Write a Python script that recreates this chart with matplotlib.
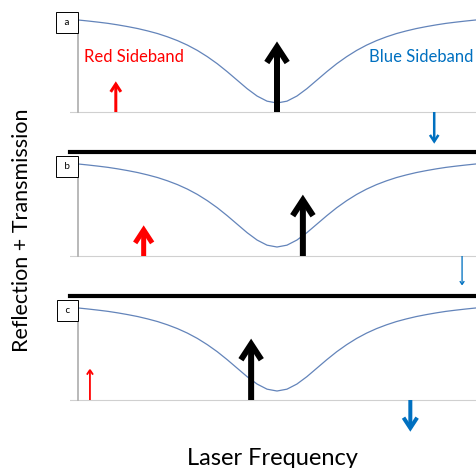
import matplotlib
matplotlib.use('Agg')
import matplotlib.pyplot as plt

plt.rcParams['font.family'] = ['Lato', 'DejaVu Sans']

# cavity response (same shape in all three panels)
freq = [-1.00, -0.95, -0.90, -0.85, -0.80, -0.75, -0.70, -0.65, -0.60, -0.55,
        -0.50, -0.45, -0.40, -0.35, -0.30, -0.25, -0.20, -0.15, -0.10, -0.05,
        0.00, 0.05, 0.10, 0.15, 0.20, 0.25, 0.30, 0.35, 0.40, 0.45,
        0.50, 0.55, 0.60, 0.65, 0.70, 0.75, 0.80, 0.85, 0.90, 0.95, 1.00]
signal = [0.900, 0.890, 0.879, 0.867, 0.852, 0.835, 0.816, 0.793, 0.767, 0.735,
          0.698, 0.654, 0.602, 0.541, 0.472, 0.394, 0.311, 0.228, 0.156, 0.106,
          0.088, 0.106, 0.156, 0.228, 0.311, 0.394, 0.472, 0.541, 0.602, 0.654,
          0.698, 0.735, 0.767, 0.793, 0.816, 0.835, 0.852, 0.867, 0.879, 0.890, 0.900]

panel_labels = ['a', 'b', 'c']
carrier_x = [0.00, 0.13, -0.13]
carrier_h = [0.69, 0.60, 0.60]
red_x = [-0.81, -0.67, -0.94]
red_h = [0.30, 0.30, 0.31]
blue_x = [0.79, 0.93, 0.67]
blue_h = [-0.31, -0.29, -0.31]

# arrow thickness in pixels (amplitude of each tone)
carrier_w = [6, 6, 6]
red_w = [3, 5, 1.8]
blue_w = [2.5, 1.3, 4]

RED = '#FF0000'
BLUE = '#0070C0'
CURVE = '#6384BA'


def arrow(ax, x, h, color, w_px):
    lw = w_px * 0.72
    ax.annotate('', xy=(x, h), xytext=(x, 0),
                arrowprops=dict(arrowstyle=f'->,head_length={2.6 * lw},head_width={1.7 * lw}',
                                lw=lw, color=color, shrinkA=0, shrinkB=0,
                                mutation_scale=1, joinstyle='miter', capstyle='butt'),
                zorder=5)


fig = plt.figure(figsize=(4.76, 4.68), dpi=100)
W, H = 476, 468
left = 70 / W
width = 406 / W
tops = [8, 152, 296]

for i in range(3):
    top = tops[i]
    ax = fig.add_axes([left, 1 - (top + 144) / H, width, 144 / H])
    ax.set_xlim(-1.0402, 1.0)
    ax.set_ylim(-0.391, 1.017)
    ax.set_xticks([])
    ax.set_yticks([])
    ax.patch.set_alpha(0)
    ax.spines['top'].set_visible(False)
    ax.spines['right'].set_visible(False)
    if i < 2:
        ax.spines['bottom'].set_linewidth(3.0)
        ax.spines['bottom'].set_color('black')
    else:
        ax.spines['bottom'].set_visible(False)
    ax.spines['left'].set_position(('data', -1.0))
    ax.spines['left'].set_bounds(0, 0.85)
    ax.spines['left'].set_color('#A6A6A6')
    ax.spines['left'].set_linewidth(1.1)

    ax.axhline(0, color='#D0D0D0', lw=0.8, zorder=1)
    ax.plot(freq, signal, color=CURVE, lw=0.9, zorder=2)

    arrow(ax, carrier_x[i], carrier_h[i], 'black', carrier_w[i])
    arrow(ax, red_x[i], red_h[i], RED, red_w[i])
    arrow(ax, blue_x[i], blue_h[i], BLUE, blue_w[i])

    ax.annotate(' ' + panel_labels[i] + ' ', xy=(-1.0, 0.875), xytext=(-4.2, 0),
                textcoords='offset points', ha='right', va='center', fontsize=7,
                bbox=dict(boxstyle='square,pad=0.6', fc='white', ec='black', lw=0.7),
                zorder=6)

    if i == 0:
        ax.text(-0.72, 0.54, 'Red Sideband', color=RED, ha='center', va='center', fontsize=12)
        ax.text(0.725, 0.54, 'Blue Sideband', color=BLUE, ha='center', va='center', fontsize=12)

fig.text(22 / W, 1 - 230 / H, 'Reflection + Transmission', rotation=90,
         ha='center', va='center', fontsize=15.5)
fig.text(272 / W, 3 / H, 'Laser Frequency', ha='center', va='baseline', fontsize=17)

fig.savefig('out.png', dpi=100)
